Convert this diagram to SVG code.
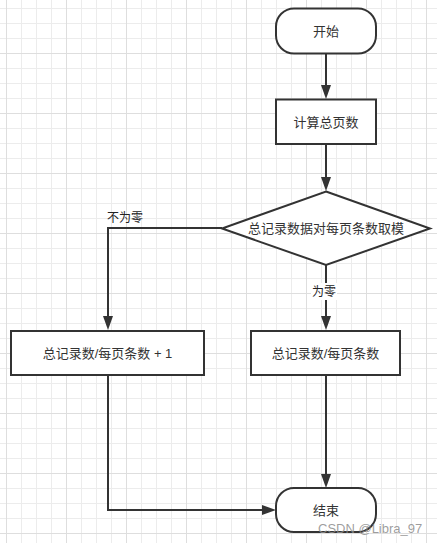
<svg xmlns="http://www.w3.org/2000/svg" width="437" height="543" viewBox="0 0 437 543">
  <style>
    .shape { fill: #ffffff; stroke: #333333; stroke-width: 2; }
    .edge { fill: none; stroke: #333333; stroke-width: 2; }
    .txt { font-family: "Liberation Sans", "Noto Sans CJK SC", sans-serif; font-size: 13px; fill: #333333; text-anchor: middle; }
    .lbl { font-family: "Liberation Sans", "Noto Sans CJK SC", sans-serif; font-size: 12px; fill: #222222; }
    .wm { font-family: "Liberation Sans", "Noto Sans CJK SC", sans-serif; font-size: 13px; fill: #8c8c8c; fill-opacity: 0.85; }
  </style>
  <defs>
    <pattern id="grid" x="6" y="-7" width="60" height="60" patternUnits="userSpaceOnUse">
      <path d="M15.5 0V60M30.5 0V60M45.5 0V60M0 15.5H60M0 30.5H60M0 45.5H60" stroke="#ececec" stroke-width="1" fill="none"/>
      <path d="M0.5 0V60M0 0.5H60" stroke="#dedede" stroke-width="1" fill="none"/>
    </pattern>
    <marker id="arrow" markerUnits="userSpaceOnUse" markerWidth="16" markerHeight="12" refX="0" refY="5" orient="auto">
      <path d="M0,0 L14,5 L0,10 Z" fill="#333333"/>
    </marker>
  </defs>
  <rect x="0" y="0" width="437" height="543" fill="#ffffff"/>
  <rect x="0" y="0" width="437" height="543" fill="url(#grid)"/>

  <g id="connectors">
    <path class="edge" d="M326,53 V85" marker-end="url(#arrow)"/>
    <path class="edge" d="M326,144 V177" marker-end="url(#arrow)"/>
    <path class="edge" d="M326,265 V316" marker-end="url(#arrow)"/>
    <path class="edge" d="M222,228 H108 V316" marker-end="url(#arrow)"/>
    <path class="edge" d="M326,375 V474" marker-end="url(#arrow)"/>
    <path class="edge" d="M108,375 V510 H262" marker-end="url(#arrow)"/>
    <g id="label-zero">
      <rect x="311" y="283" width="26" height="17" fill="#ffffff"/>
      <text class="lbl" x="324" y="296" text-anchor="middle">为零</text>
    </g>
    <text id="label-nonzero" class="lbl" x="107" y="222">不为零</text>
  </g>

  <g id="start">
    <rect class="shape" x="276" y="8.5" width="100" height="45" rx="18" ry="18"/>
    <text class="txt" x="326" y="35.5">开始</text>
  </g>
  <g id="calc">
    <rect class="shape" x="276" y="99.5" width="100" height="44.5"/>
    <text class="txt" x="326" y="126.5">计算总页数</text>
  </g>
  <g id="decision">
    <polygon class="shape" points="326,191.5 430,228.5 326,265 222,228.5"/>
    <text class="txt" x="326" y="233">总记录数据对每页条数取模</text>
  </g>
  <g id="plus-one">
    <rect class="shape" x="11" y="331" width="193" height="44"/>
    <text class="txt" x="107.5" y="357.5">总记录数/每页条数 + 1</text>
  </g>
  <g id="divide">
    <rect class="shape" x="251" y="331" width="149" height="44"/>
    <text class="txt" x="325.5" y="357.5">总记录数/每页条数</text>
  </g>
  <g id="end">
    <rect class="shape" x="276" y="488" width="100" height="44" rx="18" ry="18"/>
    <text class="txt" x="326" y="514.5">结束</text>
  </g>
  <text class="wm" x="318" y="533">CSDN @Libra_97</text>
</svg>
